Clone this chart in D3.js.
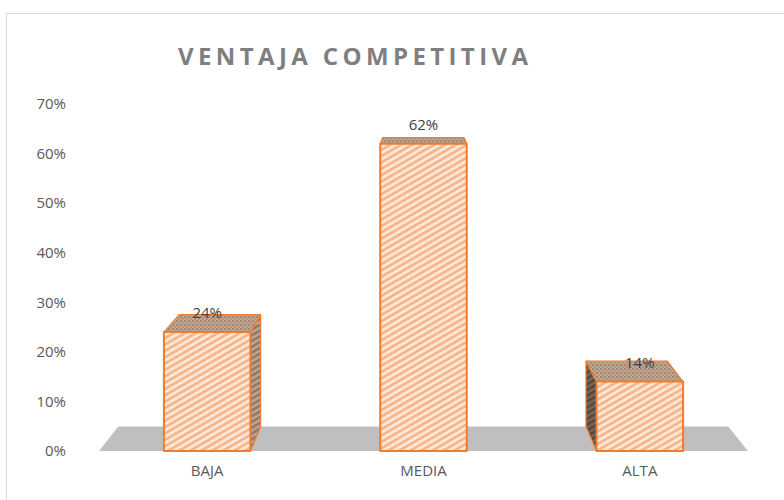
<!DOCTYPE html>
<html>
<head>
<meta charset="utf-8">
<script src="https://cdn.jsdelivr.net/npm/d3@7"></script>
<style>
  html, body { margin: 0; padding: 0; background: #fff; }
  svg { display: block; }
</style>
</head>
<body>
<svg id="chart" width="784" height="500"></svg>
<script>
// ---- data ----
const title = "VENTAJA COMPETITIVA";
const categories = ["BAJA", "MEDIA", "ALTA"];
const values = [0.24, 0.62, 0.14];
const yTicks = [0, 0.1, 0.2, 0.3, 0.4, 0.5, 0.6, 0.7];

// ---- layout ----
const W = 784, H = 500;
const svg = d3.select("#chart");
const defs = svg.append("defs");

const x = d3.scaleBand().domain(categories).range([99, 748]).paddingInner(0.6).paddingOuter(0.3);
const y = d3.scaleLinear().domain([0, 0.7]).range([451, 104]);

// simple perspective: back face = front face shrunk toward a vanishing point
const VP = [420, 42], K = 0.94;
const back = p => [VP[0] + (p[0] - VP[0]) * K, VP[1] + (p[1] - VP[1]) * K];
const poly = pts => "M" + pts.map(p => p.join(",")).join("L") + "Z";

// ---- patterns ----
function stripes(id, bg, fg, size, angle) {
  const p = defs.append("pattern").attr("id", id).attr("patternUnits", "userSpaceOnUse")
    .attr("width", size).attr("height", size).attr("patternTransform", `rotate(${angle})`);
  p.append("rect").attr("width", size).attr("height", size).attr("fill", bg);
  p.append("rect").attr("width", size).attr("height", size / 2).attr("fill", fg);
}
stripes("frontPat", "#fde7d8", "#f6b68b", 5.5, -30);
stripes("rightPat", "#bfa693", "#8f7767", 5, -30);
stripes("leftPat", "#7a6557", "#54463d", 5, -30);
const dots = defs.append("pattern").attr("id", "topPat").attr("patternUnits", "userSpaceOnUse")
  .attr("width", 4).attr("height", 4);
dots.append("rect").attr("width", 4).attr("height", 4).attr("fill", "#c4a690");
dots.append("rect").attr("x", 0).attr("y", 0).attr("width", 2).attr("height", 2).attr("fill", "#9f8674");
dots.append("rect").attr("x", 2).attr("y", 2).attr("width", 2).attr("height", 2).attr("fill", "#ae9583");

// ---- chart frame ----
svg.append("rect").attr("x", 6.5).attr("y", 13.5).attr("width", 820).attr("height", 520)
  .attr("fill", "#fff").attr("stroke", "#d9d9d9").attr("stroke-width", 1);

// ---- title ----
svg.append("text").attr("x", 178).attr("y", 65)
  .attr("textLength", 350).attr("lengthAdjust", "spacing")
  .attr("font-family", "'Open Sans', sans-serif").attr("font-weight", "bold")
  .attr("font-size", 24).attr("fill", "#7f7f7f").text(title);

// ---- floor ----
const [r0, r1] = x.range();
const f0 = [r0, y(0)], f1 = [r1, y(0)];
svg.append("path").attr("d", poly([f0, f1, back(f1), back(f0)])).attr("fill", "#bfbfbf");

// ---- y axis ----
const yAxis = svg.append("g").attr("transform", "translate(72,0)")
  .call(d3.axisLeft(y).tickValues(yTicks).tickFormat(d3.format(".0%")).tickSize(0).tickPadding(6));
yAxis.select(".domain").remove();
yAxis.selectAll("text").attr("font-family", "'Open Sans', sans-serif").attr("font-size", 15).attr("fill", "#595959");

// ---- bars ----
const bw = x.bandwidth();
const stroke = "#ed7d31";
const gBars = svg.append("g");
categories.forEach((c, i) => {
  const x0 = x(c), x1 = x0 + bw, yb = y(0), yt = y(values[i]);
  const FTL = [x0, yt], FTR = [x1, yt], FBR = [x1, yb], FBL = [x0, yb];
  const BTL = back(FTL), BTR = back(FTR), BBR = back(FBR), BBL = back(FBL);
  const g = gBars.append("g");
  if (x1 < VP[0]) {
    g.append("path").attr("d", poly([FTR, BTR, BBR, FBR])).attr("fill", "url(#rightPat)")
      .attr("stroke", stroke).attr("stroke-width", 1.2).attr("stroke-linejoin", "round");
  }
  if (x0 > VP[0]) {
    g.append("path").attr("d", poly([FTL, BTL, BBL, FBL])).attr("fill", "url(#leftPat)")
      .attr("stroke", stroke).attr("stroke-width", 1.2).attr("stroke-linejoin", "round");
  }
  if (yt > VP[1]) {
    g.append("path").attr("d", poly([FTL, FTR, BTR, BTL])).attr("fill", "url(#topPat)")
      .attr("stroke", stroke).attr("stroke-width", 1.2).attr("stroke-linejoin", "round");
  }
  g.append("path").attr("d", poly([FTL, FTR, FBR, FBL])).attr("fill", "url(#frontPat)")
    .attr("stroke", stroke).attr("stroke-width", 2).attr("stroke-linejoin", "round");
  // data label
  svg.append("text").attr("x", x0 + bw / 2).attr("y", yt - 14).attr("text-anchor", "middle")
    .attr("font-family", "'Open Sans', sans-serif").attr("font-size", 15).attr("fill", "#404040")
    .text(d3.format(".0%")(values[i]));
});

// ---- x axis labels ----
const xAxis = svg.append("g").attr("transform", `translate(0,${y(0)})`)
  .call(d3.axisBottom(x).tickSize(0).tickPadding(14));
xAxis.select(".domain").remove();
xAxis.selectAll("text").attr("font-family", "'Open Sans', sans-serif").attr("font-size", 15).attr("fill", "#595959");
</script>
</body>
</html>
